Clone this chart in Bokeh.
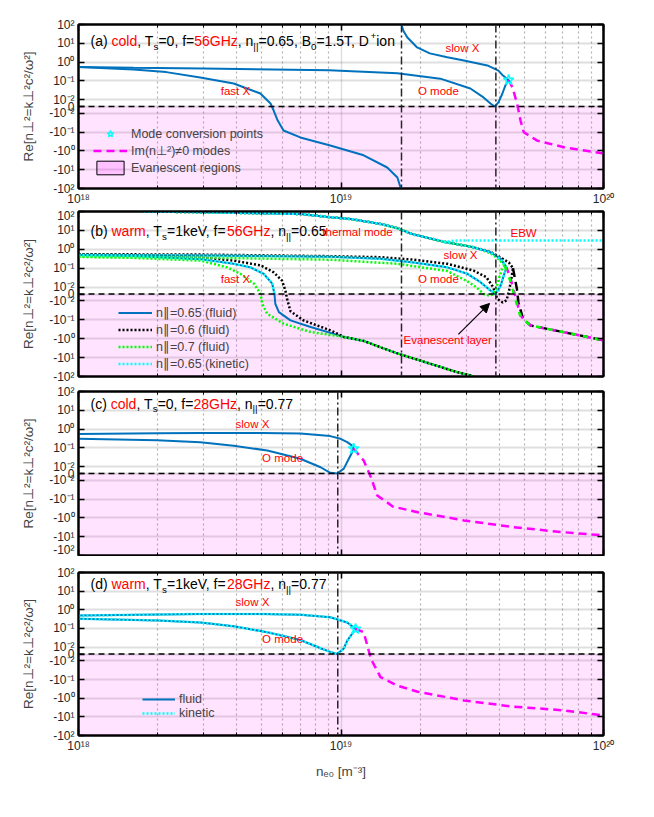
import numpy as np
from bokeh.plotting import figure
from bokeh.models import (ColumnDataSource, CustomJSTransform, FixedTicker, CustomJSTickFormatter,
                          LinearAxis, LogAxis, Span, BoxAnnotation, Label, Legend, LegendItem,
                          Arrow, NormalHead, Range1d)
from bokeh.transform import transform
from bokeh.layouts import column
from bokeh.embed import file_html
from bokeh.resources import INLINE

# ------------------------------------------------------------------ data
# density axis (m^-3); values are Re[n_perp^2]
x_tick_vals = [1e18, 1e19, 1e20]
x_tick_labels = ["10¹⁸", "10¹⁹", "10²⁰"]
x_minor_vals = [2e18, 3e18, 4e18, 5e18, 6e18, 7e18, 8e18, 9e18,
                2e19, 3e19, 4e19, 5e19, 6e19, 7e19, 8e19, 9e19]
y_tick_vals = [100, 10, 1, 0.1, 0.01, 0, -0.01, -0.1, -1, -10, -100]
y_tick_labels = ["10²", "10¹", "10⁰", "10⁻¹", "10⁻²", "0", "-10⁻²", "-10⁻¹", "-10⁰", "-10¹", "-10²"]

n_uh_56 = 1.70e19
n_pe_56 = 3.89e19
n_pe_28 = 9.72e18

# evanescent region (Re[n_perp^2] < 0) over the whole density span
ev_n = [1e18, 1e20]
ev_v = [-100, 0]

# (a) cold, 56 GHz
a_fastX_n = [1.0e18, 1.62e18, 2.16e18, 2.91e18, 3.9e18, 4.93e18, 5.39e18, 5.54e18, 5.74e18, 6.04e18,
             7.0e18, 9.1e18, 1.22e19, 1.50e19, 1.64e19, 1.69e19]
a_fastX_v = [0.55, 0.40, 0.29, 0.15, 0.072, 0.021, 0.0043, -0.0058, -0.024, -0.081,
             -0.19, -0.51, -1.7, -7.6, -26, -100]
a_O_n = [1.0e18, 1.62e18, 3.0e18, 9.0e18, 1.64e19, 2.39e19, 3.11e19, 3.49e19, 3.71e19, 3.85e19,
         3.98e19, 4.12e19, 4.23e19, 4.35e19]
a_O_v = [0.55, 0.49, 0.45, 0.37, 0.25, 0.13, 0.039, 0.013, 0.0043, 0.0,
         0.006, 0.021, 0.057, 0.11]
a_slowX_n = [1.70e19, 1.726e19, 1.787e19, 1.95e19, 2.18e19, 2.54e19, 2.94e19, 3.61e19, 3.98e19, 4.14e19, 4.35e19]
a_slowX_v = [100, 48, 21, 6.0, 2.9, 1.8, 1.2, 0.66, 0.35, 0.19, 0.11]
a_Im_n = [4.35e19, 4.50e19, 4.69e19, 4.83e19, 4.97e19, 5.59e19, 7.06e19, 1.0e20]
a_Im_v = [0.11, 0.044, 0.0039, -0.024, -0.10, -0.28, -0.63, -1.35]
a_star_n = [4.35e19]
a_star_v = [0.11]

# (b) warm, 56 GHz
b_fast_n_065 = [1.0e18, 1.62e18, 2.91e18, 3.9e18, 4.52e18, 5.08e18, 5.47e18, 5.58e18, 5.62e18, 5.8e18,
                6.42e18, 7.66e18, 1.026e19, 1.22e19, 1.41e19, 1.64e19, 2.19e19, 2.77e19, 3.11e19, 3.2e19]
b_fast_v_065 = [0.50, 0.44, 0.30, 0.17, 0.11, 0.05, 0.015, 0.0, -0.014, -0.039,
                -0.107, -0.24, -0.8, -1.3, -2.8, -6.0, -21, -59, -87, -100]
b_fast_n_06 = [1.0e18, 1.62e18, 2.91e18, 3.9e18, 4.94e18, 5.54e18, 5.96e18, 6.14e18, 6.23e18, 6.42e18,
               7.2e18, 9.11e18, 1.026e19, 1.22e19, 1.41e19, 1.64e19, 2.19e19, 2.77e19, 3.11e19, 3.2e19]
b_fast_v_06 = [0.55, 0.48, 0.38, 0.25, 0.14, 0.06, 0.022, 0.005, -0.007, -0.035,
               -0.107, -0.36, -0.8, -1.3, -2.8, -6.0, -21, -59, -87, -100]
b_fast_n_07 = [1.0e18, 1.62e18, 2.91e18, 3.69e18, 4.14e18, 4.66e18, 4.94e18, 5.01e18, 5.24e18, 6.05e18,
               7.66e18, 1.026e19, 1.22e19, 1.41e19, 1.64e19, 2.19e19, 2.77e19, 3.11e19, 3.2e19]
b_fast_v_07 = [0.40, 0.35, 0.25, 0.11, 0.05, 0.015, 0.0, -0.014, -0.048, -0.16,
               -0.44, -0.8, -1.3, -2.8, -6.0, -21, -59, -87, -100]
b_fast_n_kin = [1.0e18, 1.62e18, 2.91e18, 3.9e18, 4.52e18, 5.08e18, 5.47e18, 5.58e18]
b_fast_v_kin = [0.50, 0.44, 0.30, 0.17, 0.11, 0.05, 0.015, 0.0]

b_O_n_065 = [1.0e18, 3.0e18, 9.1e18, 1.414e19, 1.89e19, 2.54e19, 3.03e19, 3.40e19, 3.71e19, 3.88e19,
             4.06e19, 4.17e19, 4.27e19]
b_O_v_065 = [0.50, 0.47, 0.40, 0.31, 0.20, 0.11, 0.05, 0.018, 0.005, 0.0,
             0.012, 0.041, 0.11]
b_O_n_06 = [1.0e18, 3.0e18, 9.1e18, 1.414e19, 1.89e19, 2.54e19, 3.2e19, 3.58e19, 3.80e19, 3.94e19,
            4.13e19, 4.27e19, 4.36e19, 4.46e19, 4.52e19]
b_O_v_06 = [0.55, 0.52, 0.43, 0.38, 0.28, 0.17, 0.074, 0.033, 0.0097, -0.007,
            -0.012, -0.009, 0.003, 0.03, 0.1]
b_O_n_07 = [1.0e18, 3.0e18, 9.1e18, 1.64e19, 2.54e19, 3.03e19, 3.27e19, 3.5e19, 3.65e19, 3.77e19,
            3.88e19, 3.99e19, 4.11e19, 4.21e19]
b_O_v_07 = [0.40, 0.36, 0.28, 0.17, 0.07, 0.02, 0.01, 0.0, -0.002, -0.001,
            0.004, 0.027, 0.092, 0.13]

b_th_n_065 = [1.6e18, 1.77e18, 2.91e18, 7.0e18, 9.1e18, 1.087e19, 1.414e19, 1.64e19, 1.89e19, 2.54e19,
              3.20e19, 3.71e19, 4.06e19, 4.27e19]
b_th_v_065 = [130, 100, 92, 74, 50, 40, 22, 13, 6.0, 2.3,
              1.28, 0.69, 0.31, 0.11]
b_th_n_06 = [1.6e18, 1.77e18, 2.91e18, 7.0e18, 9.1e18, 1.087e19, 1.414e19, 1.64e19, 1.89e19, 2.54e19,
             3.20e19, 3.71e19, 4.06e19, 4.36e19, 4.52e19]
b_th_v_06 = [130, 100, 92, 74, 50, 40, 22, 13, 6.0, 2.3,
             1.28, 0.72, 0.36, 0.2, 0.1]
b_th_n_07 = [1.6e18, 1.77e18, 2.91e18, 7.0e18, 9.1e18, 1.087e19, 1.414e19, 1.64e19, 1.89e19, 2.54e19,
             3.20e19, 3.71e19, 3.99e19, 4.21e19]
b_th_v_07 = [130, 100, 92, 74, 50, 40, 22, 13, 6.0, 2.3,
             1.28, 0.62, 0.3, 0.13]
b_EBW_n = [2.46e19, 2.62e19, 2.77e19, 3.5e19, 5.0e19, 7.0e19, 1.0e20]
b_EBW_v = [2.35, 2.7, 2.9, 2.95, 2.95, 2.95, 2.95]

b_Im_n_065 = [4.27e19, 4.42e19, 4.62e19, 4.83e19, 5.28e19, 7.07e19, 1.0e20]
b_Im_v_065 = [0.11, 0.03, -0.004, -0.06, -0.2, -0.45, -1.2]
b_Im_n_06 = [4.52e19, 4.68e19, 4.74e19, 4.94e19, 5.28e19, 7.07e19, 1.0e20]
b_Im_v_06 = [0.1, 0.007, -0.012, -0.09, -0.2, -0.45, -1.2]
b_Im_n_07 = [4.21e19, 4.42e19, 4.62e19, 4.83e19, 5.28e19, 7.07e19, 1.0e20]
b_Im_v_07 = [0.13, 0.02, -0.008, -0.07, -0.2, -0.45, -1.2]

# (c) cold, 28 GHz
c_slowX_n = [1.0e18, 2.0e18, 2.91e18, 5.0e18, 7.0e18, 9.1e18, 9.96e18, 1.056e19, 1.103e19, 1.117e19]
c_slowX_v = [0.55, 0.60, 0.62, 0.62, 0.58, 0.42, 0.30, 0.20, 0.13, 0.089]
c_O_n = [1.0e18, 1.99e18, 2.91e18, 3.9e18, 5.24e18, 7.0e18, 8.36e18, 9.1e18, 9.67e18, 1.025e19,
         1.071e19, 1.103e19, 1.117e19]
c_O_v = [0.30, 0.25, 0.20, 0.13, 0.071, 0.026, 0.009, 0.001, 0.0, 0.007,
         0.026, 0.058, 0.089]
c_Im_n = [1.117e19, 1.22e19, 1.30e19, 1.374e19, 1.58e19, 1.96e19, 2.94e19, 4.53e19, 7.0e19, 1.0e20]
c_Im_v = [0.089, 0.021, -0.0053, -0.063, -0.25, -0.49, -1.35, -3.1, -5.7, -8.5]
c_star_n = [1.117e19]
c_star_v = [0.089]

# (d) warm, 28 GHz (fluid and kinetic coincide)
d_slowX_n = [1.0e18, 2.91e18, 5.0e18, 7.0e18, 9.1e18, 1.056e19, 1.136e19]
d_slowX_v = [0.49, 0.60, 0.60, 0.55, 0.40, 0.21, 0.095]
d_O_n = [1.0e18, 2.0e18, 2.91e18, 3.9e18, 5.24e18, 7.0e18, 8.4e18, 9.1e18, 9.67e18, 1.025e19,
         1.056e19, 1.1e19, 1.136e19]
d_O_v = [0.33, 0.27, 0.21, 0.13, 0.063, 0.024, 0.008, 0.003, 0.0, 0.008,
         0.022, 0.05, 0.095]
d_Im_n = [1.136e19, 1.22e19, 1.30e19, 1.414e19, 1.637e19, 1.96e19, 2.94e19, 4.5e19, 7.07e19, 1.0e20]
d_Im_v = [0.095, 0.063, -0.007, -0.074, -0.21, -0.45, -1.32, -2.8, -4.5, -8.5]
d_star_n = [1.136e19]
d_star_v = [0.095]

# ------------------------------------------------------------------ style
FONT = "Liberation Sans"
BLUE = "#0072BD"
GREEN = "#00FF00"
CYAN = "#00FFFF"
MAG = "#FF00FF"
RED = "#FF0000"

G = 0.37           # half-width (in decades) of the linear zone around 0
YMAX = 4 + G


def symlog_py(v):
    a = abs(v)
    if a >= 0.01:
        return float(np.sign(v) * (np.log10(a) + 2 + G))
    return v / 0.01 * G


y_tick_pos = [symlog_py(v) for v in y_tick_vals]

SYMLOG = CustomJSTransform(args=dict(g=G), func="""
const a = Math.abs(x);
return a >= 0.01 ? Math.sign(x) * (Math.log10(a) + 2 + g) : x / 0.01 * g;
""", v_func="""
const out = new Float64Array(xs.length);
for (let i = 0; i < xs.length; i++) {
  const v = xs[i]; const a = Math.abs(v);
  out[i] = a >= 0.01 ? Math.sign(v) * (Math.log10(a) + 2 + g) : v / 0.01 * g;
}
return out;
""")

LOOKUP = """
for (let i = 0; i < pos.length; i++) {
  if (Math.abs(pos[i] - tick) <= 1e-6 * Math.max(1, Math.abs(pos[i]))) return labs[i];
}
return "";
"""
XFMT = CustomJSTickFormatter(args=dict(pos=x_tick_vals, labs=x_tick_labels), code=LOOKUP)
YFMT = CustomJSTickFormatter(args=dict(pos=y_tick_pos, labs=y_tick_labels), code=LOOKUP)
EMPTY = CustomJSTickFormatter(code='return "";')

CW = {' ': 278, '(': 333, ')': 333, '+': 584, ',': 278, '-': 333, '.': 278, '/': 278, '=': 584, '|': 260,
      'B': 667, 'D': 722, 'G': 778, 'H': 722, 'T': 611, 'V': 667, 'X': 667, 'O': 778, 'E': 667, 'W': 944,
      'a': 556, 'b': 556, 'c': 500, 'd': 556, 'e': 556, 'f': 278, 'h': 556, 'i': 222, 'k': 500, 'l': 222,
      'm': 833, 'n': 556, 'o': 556, 'p': 556, 'r': 333, 's': 500, 't': 278, 'u': 556, 'v': 500, 'w': 722,
      'y': 500, 'z': 500}


def tw(s, size):
    return sum(CW.get(c, 556) for c in s) * size / 1000.0


def rich(p, x, y, segs, size, align="left", y_off=0):
    small = size * 0.7
    widths = []
    for t, k, c in segs:
        widths.append(tw(t, size if k == "n" else small))
    off = 0.0 if align == "left" else -sum(widths) / 2.0
    for (t, k, c), w in zip(segs, widths):
        fs = size if k == "n" else small
        yo = 0.0 if k == "n" else (-0.38 * size if k == "sub" else 0.42 * size)
        p.add_layout(Label(x=x, y=y, x_offset=off, y_offset=y_off + yo, text=t, text_color=c,
                           text_font=FONT, text_font_size=f"{fs:.1f}px",
                           text_baseline="middle", text_align="left"))
        off += w


def note(p, x, y, text, color=RED, size=11.5):
    p.add_layout(Label(x=x, y=y, text=text, text_color=color, text_font=FONT,
                       text_font_size=f"{size}px", text_baseline="middle", text_align="center"))


def add_line(p, n, v, **kw):
    src = ColumnDataSource(dict(n=list(n), v=list(v)))
    return p.line(x="n", y=transform("v", SYMLOG), source=src, **kw)


def add_star(p, n, v):
    src = ColumnDataSource(dict(n=list(n), v=list(v)))
    return p.scatter(x="n", y=transform("v", SYMLOG), source=src, marker="star", size=11,
                     line_color=CYAN, fill_alpha=0, line_width=1.5)


SOLID = dict(line_color=BLUE, line_width=2)


def dotted(c):
    return dict(line_color=c, line_width=2.5, line_dash="2 2")


def dashed(c, pat="8 5"):
    return dict(line_color=c, line_width=2.5, line_dash=pat)


XT = FixedTicker(ticks=x_tick_vals, minor_ticks=x_minor_vals)
YT = FixedTicker(ticks=y_tick_pos, minor_ticks=[])


def make_panel(frame_h, top, bottom, xlabels, xtitle=None):
    p = figure(frame_width=525, frame_height=frame_h, x_axis_type="log",
               x_range=Range1d(1e18, 1e20), y_range=Range1d(-YMAX, YMAX),
               output_backend="svg", toolbar_location=None,
               min_border_left=78, min_border_right=43, min_border_top=top, min_border_bottom=bottom)
    p.outline_line_color = "black"
    p.outline_line_width = 2
    p.outline_line_alpha = 1
    xa = p.xaxis[0]
    ya = p.yaxis[0]
    xa.ticker = XT
    ya.ticker = YT
    xa.formatter = XFMT if xlabels else EMPTY
    if not xlabels:
        xa.major_label_text_font_size = "0px"
        xa.major_label_standoff = 0
    else:
        xa.major_label_text_font_size = "12px"
        xa.major_label_standoff = 3
    ya.formatter = YFMT
    ya.major_label_text_font_size = "12px"
    ya.major_label_standoff = 4
    for ax in (xa, ya):
        ax.axis_line_width = 2
        ax.major_tick_in = 6
        ax.major_tick_out = 0
        ax.minor_tick_in = 3
        ax.minor_tick_out = 0
        ax.major_tick_line_width = 1.5
        ax.major_label_text_font = FONT
        ax.major_label_text_color = "#262626"
    ya.axis_label = "Re[n⊥²=k⊥²c²/ω²]"
    ya.axis_label_text_font = FONT
    ya.axis_label_text_font_size = "13.5px"
    ya.axis_label_text_font_style = "normal"
    ya.axis_label_standoff = 10
    if xtitle:
        xa.axis_label = xtitle
        xa.axis_label_text_font = FONT
        xa.axis_label_text_font_size = "13.5px"
        xa.axis_label_text_font_style = "normal"
        xa.axis_label_standoff = 8
    ra = LinearAxis(ticker=YT, formatter=EMPTY, major_label_text_font_size="0px", major_label_standoff=0,
                    major_tick_in=6, major_tick_out=0, minor_tick_out=0, axis_line_width=2,
                    major_tick_line_width=1.5)
    p.add_layout(ra, "right")
    ta = LogAxis(ticker=XT, formatter=EMPTY, major_label_text_font_size="0px", major_label_standoff=0,
                 major_tick_in=6, major_tick_out=0, minor_tick_in=3, minor_tick_out=0, axis_line_width=2,
                 major_tick_line_width=1.5)
    p.add_layout(ta, "above")
    p.xgrid.grid_line_color = "#262626"
    p.xgrid.grid_line_alpha = 0.15
    p.xgrid.grid_line_width = 1.5
    p.xgrid.minor_grid_line_color = "#262626"
    p.xgrid.minor_grid_line_alpha = 0.35
    p.xgrid.minor_grid_line_dash = "2 3"
    p.xgrid.minor_grid_line_width = 1.2
    p.ygrid.grid_line_color = "#262626"
    p.ygrid.grid_line_alpha = 0.15
    p.ygrid.grid_line_width = 2
    p.add_layout(BoxAnnotation(top=0, fill_color=MAG, fill_alpha=0.11, line_alpha=0, level="underlay"))
    p.add_layout(Span(location=0, dimension="width", line_color="black", line_dash="6 4", line_width=1.5))
    return p


def vline(p, loc):
    p.add_layout(Span(location=loc, dimension="height", line_color="#262626", line_dash="8 3 2 3",
                      line_width=1.5))


# ------------------------------------------------------------------ panel (a)
pa = make_panel(164, 24, 20, True)
vline(pa, n_uh_56)
vline(pa, n_pe_56)
add_line(pa, a_fastX_n, a_fastX_v, **SOLID)
add_line(pa, a_O_n, a_O_v, **SOLID)
add_line(pa, a_slowX_n, a_slowX_v, **SOLID)
r_im = add_line(pa, a_Im_n, a_Im_v, **dashed(MAG))
r_st = add_star(pa, a_star_n, a_star_v)
ev_src = ColumnDataSource(dict(l=[ev_n[0]], r=[ev_n[1]], b=[ev_v[0]], t=[ev_v[1]]))
r_ev = pa.quad(left="l", right="r", bottom=transform("b", SYMLOG), top=transform("t", SYMLOG),
               source=ev_src, fill_color=MAG, fill_alpha=0.15, line_color="black", line_width=1)
r_ev.visible = False
rich(pa, 1.111e18, 3.47, [("(a) ", "n", "black"), ("cold", "n", RED), (", T", "n", "black"),
                          ("s", "sub", "black"), ("=0, f=", "n", "black"), ("56GHz", "n", RED),
                          (", n", "n", "black"), ("||", "sub", "black"), ("=0.65, B", "n", "black"),
                          ("0", "sub", "black"), ("=1.5T, D", "n", "black"), ("+", "sup", "black"),
                          (" ion", "n", "black")], 14)
note(pa, 3.96e18, 0.85, "fast X")
note(pa, 2.90e19, 3.14, "slow X")
note(pa, 2.35e19, 0.85, "O mode")
rich(pa, n_uh_56, YMAX, [("f=f", "n", RED), ("uh", "sub", RED)], 10, align="center", y_off=16)
rich(pa, n_pe_56, YMAX, [("f=f", "n", RED), ("pe", "sub", RED)], 10, align="center", y_off=16)
leg_a = Legend(items=[LegendItem(label="Mode conversion points", renderers=[r_st]),
                      LegendItem(label="Im(n⊥²)≠0 modes", renderers=[r_im]),
                      LegendItem(label="Evanescent regions", renderers=[r_ev])],
               location=(15, 12), glyph_width=34, glyph_height=17, label_height=17, spacing=0,
               padding=0, margin=0, label_standoff=4, border_line_alpha=0, background_fill_alpha=0,
               inactive_fill_alpha=0, label_text_font=FONT, label_text_font_size="12.5px")
pa.add_layout(leg_a)

# ------------------------------------------------------------------ panel (b)
pb = make_panel(165, 3, 7, False)
vline(pb, n_uh_56)
vline(pb, n_pe_56)
r_b1 = add_line(pb, b_fast_n_065, b_fast_v_065, **SOLID)
add_line(pb, b_O_n_065, b_O_v_065, **SOLID)
add_line(pb, b_th_n_065, b_th_v_065, **SOLID)
r_b2 = add_line(pb, b_fast_n_06, b_fast_v_06, **dotted("black"))
add_line(pb, b_O_n_06, b_O_v_06, **dotted("black"))
add_line(pb, b_th_n_06, b_th_v_06, **dotted("black"))
r_b3 = add_line(pb, b_fast_n_07, b_fast_v_07, **dotted(GREEN))
add_line(pb, b_O_n_07, b_O_v_07, **dotted(GREEN))
add_line(pb, b_th_n_07, b_th_v_07, **dotted(GREEN))
r_b4 = add_line(pb, b_fast_n_kin, b_fast_v_kin, **dotted(CYAN))
add_line(pb, b_O_n_065, b_O_v_065, **dotted(CYAN))
add_line(pb, b_th_n_065, b_th_v_065, **dotted(CYAN))
add_line(pb, b_EBW_n, b_EBW_v, **dotted(CYAN))
add_line(pb, b_Im_n_06, b_Im_v_06, **dashed("black", "9 5"))
add_line(pb, b_Im_n_065, b_Im_v_065, **dashed(MAG, "6 6"))
add_line(pb, b_Im_n_07, b_Im_v_07, **dashed(GREEN, "5 7"))
rich(pb, 1.111e18, 3.34, [("(b) ", "n", "black"), ("warm", "n", RED), (", T", "n", "black"),
                          ("s", "sub", "black"), ("=1keV, f=", "n", "black"), ("56GHz", "n", RED),
                          (", n", "n", "black"), ("||", "sub", "black"), ("=0.65", "n", "black")], 14)
note(pb, 1.156e19, 3.31, "thermal mode")
note(pb, 4.96e19, 3.25, "EBW")
note(pb, 2.85e19, 2.04, "slow X")
note(pb, 2.35e19, 0.82, "O mode")
note(pb, 3.96e18, 0.82, "fast X")
note(pb, 2.55e19, -2.46, "Evanescent layer")
pb.add_layout(Arrow(end=NormalHead(size=9, fill_color="black", line_color="black", line_width=1),
                    x_start=2.80e19, y_start=-2.14, x_end=3.68e19, y_end=-0.50,
                    line_color="black", line_width=1.2))
leg_b = Legend(items=[LegendItem(label="n∥=0.65 (fluid)", renderers=[r_b1]),
                      LegendItem(label="n∥=0.6 (fluid)", renderers=[r_b2]),
                      LegendItem(label="n∥=0.7 (fluid)", renderers=[r_b3]),
                      LegendItem(label="n∥=0.65 (kinetic)", renderers=[r_b4])],
               location=(40, 4.5), glyph_width=34, glyph_height=17, label_height=17, spacing=0,
               padding=0, margin=0, label_standoff=4, border_line_alpha=0, background_fill_alpha=0,
               label_text_font=FONT, label_text_font_size="12.5px")
pb.add_layout(leg_b)

# ------------------------------------------------------------------ panel (c)
pc = make_panel(164, 8, 1, False)
vline(pc, n_pe_28)
add_line(pc, c_slowX_n, c_slowX_v, **SOLID)
add_line(pc, c_O_n, c_O_v, **SOLID)
add_line(pc, c_Im_n, c_Im_v, **dashed(MAG))
add_star(pc, c_star_n, c_star_v)
rich(pc, 1.111e18, 3.73, [("(c) ", "n", "black"), ("cold", "n", RED), (", T", "n", "black"),
                          ("s", "sub", "black"), ("=0, f=", "n", "black"), ("28GHz", "n", RED),
                          (", n", "n", "black"), ("||", "sub", "black"), ("=0.77", "n", "black")], 14)
note(pc, 4.60e18, 2.66, "slow X")
note(pc, 5.99e18, 0.80, "O mode")

# ------------------------------------------------------------------ panel (d)
pd_ = make_panel(163, 16, 55, True, xtitle="nₑ₀ [m⁻³]")
vline(pd_, n_pe_28)
r_d1 = add_line(pd_, d_slowX_n, d_slowX_v, **SOLID)
add_line(pd_, d_O_n, d_O_v, **SOLID)
r_d2 = add_line(pd_, d_slowX_n, d_slowX_v, **dotted(CYAN))
add_line(pd_, d_O_n, d_O_v, **dotted(CYAN))
add_line(pd_, d_Im_n, d_Im_v, **dashed(MAG))
add_star(pd_, d_star_n, d_star_v)
rich(pd_, 1.111e18, 3.75, [("(d) ", "n", "black"), ("warm", "n", RED), (", T", "n", "black"),
                           ("s", "sub", "black"), ("=1keV, f=", "n", "black"), ("28GHz", "n", RED),
                           (", n", "n", "black"), ("||", "sub", "black"), ("=0.77", "n", "black")], 14)
note(pd_, 4.60e18, 2.78, "slow X")
note(pd_, 5.99e18, 0.81, "O mode")
rich(pd_, n_pe_28, YMAX, [("f=f", "n", RED), ("pe", "sub", RED)], 10, align="center", y_off=9)
leg_d = Legend(items=[LegendItem(label="fluid", renderers=[r_d1]),
                      LegendItem(label="kinetic", renderers=[r_d2])],
               location=(64, 15), glyph_width=33, glyph_height=14, label_height=14, spacing=0,
               padding=0, margin=0, label_standoff=4, border_line_alpha=0, background_fill_alpha=0,
               label_text_font=FONT, label_text_font_size="12.5px")
pd_.add_layout(leg_d)

layout = column(pa, pb, pc, pd_, spacing=0)
with open("out.html", "w", encoding="utf-8") as f:
    f.write(file_html(layout, INLINE))
